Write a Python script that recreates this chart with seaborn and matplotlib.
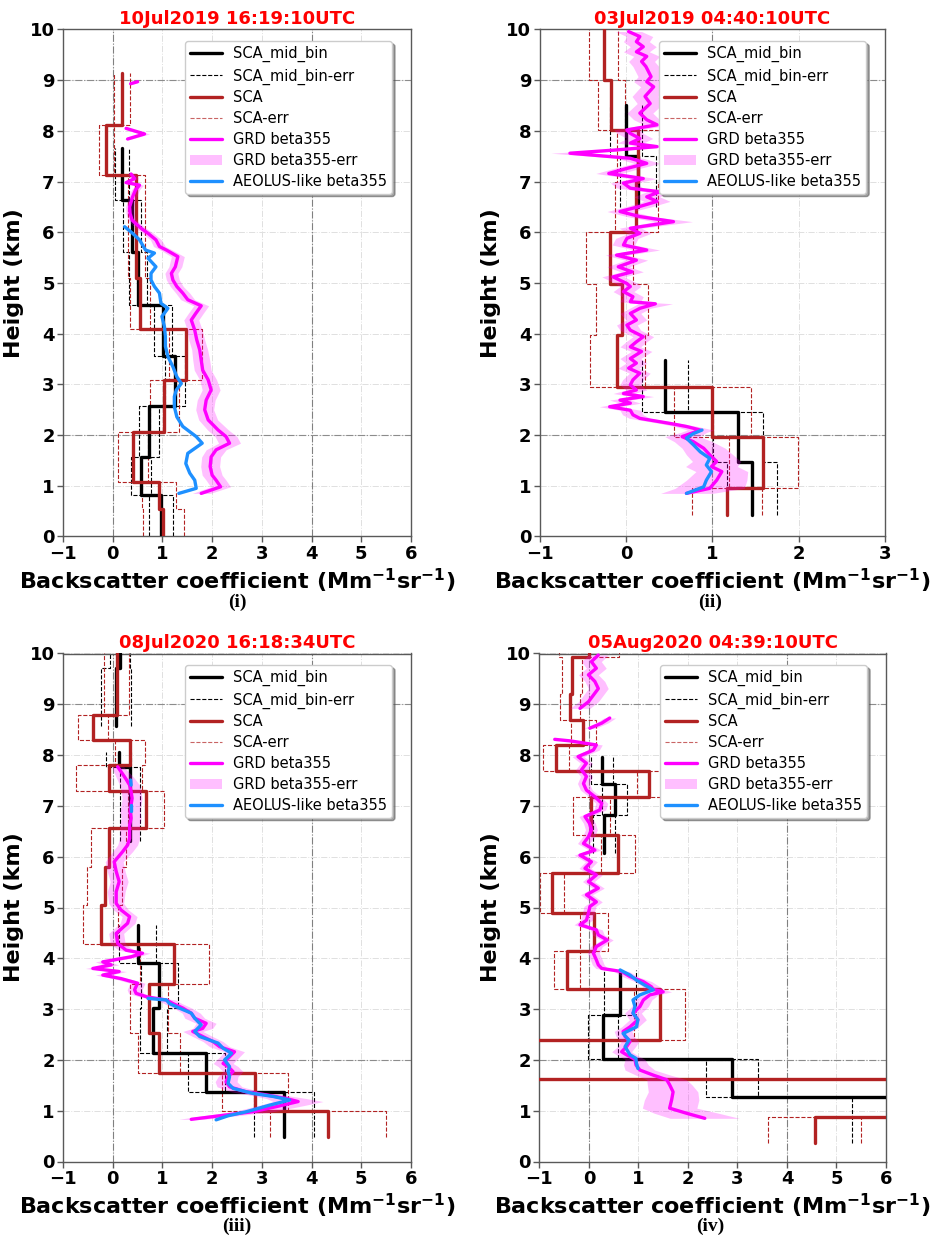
import numpy as np
import pandas as pd
import matplotlib
matplotlib.use("Agg")
import matplotlib.pyplot as plt
import seaborn as sns
from matplotlib.lines import Line2D
from matplotlib.patches import Patch

nan = np.nan

# ------------------------------------------------------------------ data
TITLES = ["10Jul2019 16:19:10UTC", "03Jul2019 04:40:10UTC",
          "08Jul2020 16:18:34UTC", "05Aug2020 04:39:10UTC"]
CAPTIONS = ["(i)", "(ii)", "(iii)", "(iv)"]
LEGEND_LABELS = ["SCA_mid_bin", "SCA_mid_bin-err", "SCA", "SCA-err",
                 "GRD beta355", "GRD beta355-err", "AEOLUS-like beta355"]
XLABEL = r"Backscatter coefficient (Mm$^{-1}$sr$^{-1}$)"
YLABEL = "Height (km)"
XTICKS_A = [-1, 0, 1, 2, 3, 4, 5, 6]
XTICKS_B = [-1, 0, 1, 2, 3]
YTICKS = [0, 1, 2, 3, 4, 5, 6, 7, 8, 9, 10]

# ---- panel (i)
P1_SCA_BOT = [0.00, 0.55, 1.07, 2.07, 3.09, 4.09, 5.10, 7.13, 8.12]
P1_SCA_TOP = [0.55, 1.07, 2.07, 3.09, 4.09, 5.10, 7.13, 8.12, 9.15]
P1_SCA_VAL = [1.02, 0.93, 0.40, 1.04, 1.47, 0.55, 0.47, -0.13, 0.18]
P1_SCA_ERR = [0.42, 0.35, 0.30, 0.30, 0.33, 0.20, 0.17, 0.15, 0.16]
P1_MID_BOT = [0.00, 0.82, 1.57, 2.57, 3.56, 4.57, 5.62, 6.64]
P1_MID_TOP = [0.82, 1.57, 2.57, 3.56, 4.57, 5.62, 6.64, 7.66]
P1_MID_VAL = [0.97, 0.57, 0.73, 1.25, 1.02, 0.50, 0.38, 0.19]
P1_MID_ERR = [0.25, 0.20, 0.20, 0.20, 0.18, 0.18, 0.18, 0.14]
P1_GRD_H = [0.85, 0.98, 1.11, 1.21, 1.38, 1.57, 1.71, 1.84, 1.97, 2.10,
            2.30, 2.50, 2.69, 2.89, 3.09, 3.28, 3.48, 3.68, 3.88, 4.07,
            4.27, 4.40, 4.55, 4.67, 4.80, 4.93, 5.06, 5.19, 5.32, 5.52,
            5.65, 5.72, 5.85, 5.98, 6.08, 6.14, 6.24, 6.37, 6.50, 6.70,
            6.84, 6.93, 6.98, 7.06, 7.15, nan, 7.84, 7.94, 8.05, nan,
            8.93, 8.97]
P1_GRD_X = [1.78, 2.17, 2.08, 2.00, 1.96, 1.98, 2.08, 2.35, 2.28, 2.12,
            1.92, 1.85, 1.88, 1.98, 1.92, 1.81, 1.78, 1.75, 1.69, 1.65,
            1.58, 1.67, 1.78, 1.51, 1.41, 1.29, 1.21, 1.18, 1.26, 1.31,
            1.08, 0.94, 0.87, 0.71, 0.57, 0.50, 0.39, 0.35, 0.34, 0.40,
            0.46, 0.54, 0.27, 0.44, 0.37, nan, 0.30, 0.64, 0.27, nan,
            0.36, 0.50]
P1_GRD_E = [0.18, 0.20, 0.20, 0.20, 0.19, 0.19, 0.20, 0.22, 0.22, 0.21,
            0.19, 0.18, 0.18, 0.18, 0.17, 0.17, 0.17, 0.16, 0.16, 0.15,
            0.15, 0.15, 0.15, 0.14, 0.14, 0.13, 0.13, 0.13, 0.13, 0.13,
            0.12, 0.12, 0.11, 0.11, 0.10, 0.10, 0.08, 0.08, 0.08, 0.08,
            0.08, 0.08, 0.08, 0.08, 0.08, nan, 0.08, 0.10, 0.08, nan,
            0.06, 0.06]
P1_AEO_H = [0.85, 0.95, 1.11, 1.25, 1.44, 1.64, 1.84, 1.97, 2.17, 2.36,
            2.56, 2.76, 2.89, 3.02, 3.15, 3.35, 3.55, 3.75, 3.94, 4.14,
            4.34, 4.50, 4.60, 4.80, 4.93, 5.06, 5.19, 5.32, 5.49, 5.59,
            5.65, 5.85, 5.98, 6.11]
P1_AEO_X = [1.33, 1.68, 1.65, 1.55, 1.47, 1.51, 1.80, 1.68, 1.41, 1.29,
            1.24, 1.24, 1.28, 1.38, 1.29, 1.21, 1.11, 1.06, 1.06, 1.04,
            0.99, 1.11, 0.97, 0.94, 0.84, 0.77, 0.77, 0.87, 0.71, 0.84,
            0.66, 0.54, 0.40, 0.24]

# ---- panel (ii)
P2_SCA_BOT = [0.42, 0.95, 1.97, 2.95, 3.97, 4.99, 6.01, 7.00, 8.02, 9.00]
P2_SCA_TOP = [0.95, 1.97, 2.95, 3.97, 4.99, 6.01, 7.00, 8.02, 9.00, 10.00]
P2_SCA_VAL = [1.17, 1.59, 1.00, -0.10, -0.05, -0.19, 0.12, 0.14, -0.17, -0.26]
P2_SCA_ERR = [0.41, 0.40, 0.45, 0.32, 0.30, 0.27, 0.25, 0.24, 0.16, 0.17]
P2_MID_BOT = [0.42, 1.46, 2.46, 6.50, 7.50]
P2_MID_TOP = [1.46, 2.46, 3.48, 7.50, 8.51]
P2_MID_VAL = [1.46, 1.30, 0.45, 0.14, 0.00]
P2_MID_ERR = [0.29, 0.29, 0.27, 0.21, 0.18]
P2_GRD_H = [0.85, 0.95, 1.11, 1.28, 1.38, 1.48, 1.61, 1.74, 1.87, 1.97,
            2.05, 2.10, 2.17, 2.23, 2.33, 2.40, 2.49, 2.56, 2.63, 2.69,
            2.76, 2.82, 2.89, 2.99, 3.09, 3.22, 3.32, 3.42, 3.51, 3.65,
            3.74, 3.84, 3.94, 4.07, 4.17, 4.27, 4.40, 4.50, 4.59, 4.63,
            4.73, 4.83, 4.93, 4.99, 5.12, 5.22, 5.32, 5.45, 5.55, 5.65,
            5.75, 5.88, 5.98, 6.08, 6.21, 6.31, 6.41, 6.51, 6.61, 6.70,
            6.80, 6.87, 6.97, 7.06, 7.16, 7.26, 7.36, 7.46, 7.56, 7.62,
            7.69, 7.76, 7.85, 7.95, 8.02, 8.12, 8.22, 8.35, 8.54, 8.68,
            8.87, 8.97, 9.07, 9.27, 9.37, 9.47, 9.56, 9.66, 9.76, 9.86,
            9.96]
P2_GRD_X = [0.70, 0.97, 1.05, 1.11, 0.99, 1.05, 0.97, 0.90, 0.78, 0.65,
            0.78, 0.86, 0.70, 0.51, 0.16, 0.08, 0.05, -0.19, 0.05, -0.07,
            0.20, -0.03, 0.12, 0.05, 0.08, 0.16, 0.03, 0.12, 0.05, 0.18,
            0.05, 0.12, 0.20, 0.05, 0.01, 0.12, 0.05, 0.16, 0.34, 0.05,
            0.08, -0.03, 0.05, 0.01, -0.15, 0.07, -0.09, 0.12, -0.11, 0.24,
            -0.03, 0.01, 0.16, 0.05, 0.55, 0.16, -0.07, 0.16, 0.36, 0.24,
            0.39, 0.05, -0.03, 0.20, -0.20, 0.01, 0.24, 0.05, -0.65, -0.15,
            0.36, 0.05, 0.16, 0.05, 0.01, 0.36, 0.24, 0.16, 0.28, 0.22,
            0.32, 0.24, 0.29, 0.23, 0.18, 0.24, 0.12, 0.20, 0.12, 0.16,
            0.03]
P2_GRD_E = [0.30, 0.40, 0.35, 0.30, 0.30, 0.28, 0.27, 0.25, 0.22, 0.20,
            0.15, 0.15, 0.13, 0.12, 0.12, 0.12, 0.12, 0.12, 0.12, 0.12,
            0.12, 0.12, 0.12, 0.12, 0.12, 0.12, 0.12, 0.12, 0.12, 0.12,
            0.12, 0.12, 0.12, 0.12, 0.12, 0.12, 0.12, 0.12, 0.20, 0.12,
            0.12, 0.12, 0.12, 0.13, 0.13, 0.13, 0.13, 0.13, 0.13, 0.15,
            0.13, 0.13, 0.13, 0.13, 0.22, 0.15, 0.15, 0.15, 0.15, 0.15,
            0.15, 0.15, 0.15, 0.15, 0.15, 0.15, 0.15, 0.15, 0.22, 0.15,
            0.15, 0.15, 0.15, 0.15, 0.15, 0.15, 0.15, 0.15, 0.15, 0.15,
            0.15, 0.15, 0.15, 0.15, 0.15, 0.15, 0.15, 0.15, 0.15, 0.15,
            0.15]
P2_AEO_H = [0.85, 0.98, 1.11, 1.28, 1.41, 1.54, 1.67, 1.81, 1.94, 2.03, 2.10]
P2_AEO_X = [0.70, 0.90, 0.93, 0.99, 0.93, 0.97, 0.86, 0.78, 0.70, 0.78, 0.88]

# ---- panel (iii)
P3_SCA_BOT = [0.48, 1.00, 1.75, 2.52, 3.49, 4.28, 5.05, 5.80, 6.56, 7.30, 7.80, 8.30, 8.79]
P3_SCA_TOP = [1.00, 1.75, 2.52, 3.49, 4.28, 5.05, 5.80, 6.56, 7.30, 7.80, 8.30, 8.79, 10.00]
P3_SCA_VAL = [4.33, 2.86, 0.93, 0.73, 1.24, -0.24, -0.16, -0.08, 0.67, -0.08, 0.34, -0.40, 0.08]
P3_SCA_ERR = [1.17, 0.66, 0.42, 0.38, 0.70, 0.35, 0.35, 0.35, 0.37, 0.66, 0.30, 0.30, 0.25]
P3_MID_BOT = [0.48, 1.37, 2.13, 3.02, 3.90, 6.30, 7.77, 8.57, 9.71]
P3_MID_TOP = [1.37, 2.13, 3.02, 3.90, 4.66, 7.77, 8.07, 9.71, 10.00]
P3_MID_VAL = [3.44, 1.88, 0.82, 0.94, 0.50, 0.35, 0.12, 0.07, 0.15]
P3_MID_ERR = [0.60, 0.37, 0.27, 0.37, 0.38, 0.20, 0.25, 0.30, 0.20]
P3_GRD_H = [0.83, 0.90, 0.98, 1.08, 1.18, 1.24, 1.31, 1.37, 1.47, 1.57,
            1.67, 1.77, 1.87, 1.93, 2.06, 2.16, 2.26, 2.36, 2.46, 2.56,
            2.62, 2.72, 2.82, 2.92, 3.02, 3.11, 3.18, 3.24, 3.31, 3.38,
            3.51, 3.60, 3.67, 3.74, 3.80, 3.87, 3.93, 4.03, 4.10, 4.16,
            4.29, 4.49, 4.69, 4.82, 4.95, 5.08, 5.31, 5.51, 5.71, 5.90,
            6.10, 6.23, 6.36, 6.49, 6.62, 6.76, 6.89, 7.02, 7.15, 7.28,
            7.41, 7.54, 7.67, 7.77]
P3_GRD_X = [1.58, 2.15, 2.82, 3.29, 3.73, 3.49, 3.09, 2.69, 2.35, 2.28,
            2.32, 2.42, 2.32, 2.22, 2.35, 2.45, 2.15, 2.02, 1.81, 1.61,
            1.81, 1.88, 1.65, 1.58, 1.41, 1.21, 1.08, 0.69, 0.47, 0.44,
            0.50, 0.17, -0.20, 0.13, -0.40, -0.03, -0.20, 0.37, 0.60, 0.27,
            0.10, 0.07, 0.30, 0.34, 0.17, 0.07, 0.07, 0.13, 0.07, 0.03,
            0.20, 0.30, 0.34, 0.34, 0.34, 0.37, 0.35, 0.37, 0.39, 0.37,
            0.34, 0.26, 0.17, 0.10]
P3_GRD_E = [0.25, 0.35, 0.40, 0.45, 0.50, 0.40, 0.35, 0.30, 0.25, 0.22,
            0.20, 0.20, 0.20, 0.20, 0.20, 0.20, 0.20, 0.20, 0.20, 0.20,
            0.20, 0.20, 0.20, 0.18, 0.18, 0.18, 0.18, 0.15, 0.15, 0.15,
            0.15, 0.15, 0.15, 0.15, 0.15, 0.15, 0.15, 0.15, 0.15, 0.15,
            0.15, 0.15, 0.15, 0.15, 0.15, 0.15, 0.18, 0.18, 0.18, 0.18,
            0.20, 0.20, 0.20, 0.20, 0.20, 0.20, 0.20, 0.20, 0.20, 0.20,
            0.20, 0.18, 0.15, 0.12]
P3_AEO_H = [0.82, 0.90, 0.98, 1.11, 1.21, 1.28, 1.34, 1.44, 1.54, 1.67,
            1.77, 1.87, 2.00, 2.13, 2.23, 2.33, 2.46, 2.56, 2.69, 2.82,
            2.92, 3.02, 3.11, 3.18, 3.21, nan, 6.89, 7.02, nan, 7.41, 7.51]
P3_AEO_X = [2.08, 2.32, 2.69, 3.16, 3.56, 3.23, 2.82, 2.42, 2.32, 2.35,
            2.32, 2.35, 2.25, 2.39, 2.22, 2.12, 1.75, 1.65, 1.78, 1.65,
            1.58, 1.34, 1.14, 1.08, 0.71, nan, 0.37, 0.37, nan, 0.37, 0.36]

# ---- panel (iv)
P4_SCA_BOT = [0.36, 0.87, 1.62, 2.39, 3.39, 4.15, 4.90, 5.67, 6.43, 7.18, 7.69, 8.20, 8.69, 9.20, 9.94]
P4_SCA_TOP = [0.87, 1.62, 2.39, 3.39, 4.15, 4.90, 5.67, 6.43, 7.18, 7.69, 8.20, 8.69, 9.20, 9.94, 10.50]
P4_SCA_VAL = [4.56, 9.50, -3.00, 1.43, -0.44, 0.10, -0.75, 0.59, 0.05, 1.22, -0.67, -0.11, -0.38, -0.34, 0.00]
P4_SCA_ERR = [0.94, 2.00, 1.50, 0.52, 0.26, 0.29, 0.24, 0.34, 0.37, 0.25, 0.26, 0.26, 0.20, 0.20, 0.60]
P4_MID_BOT = [0.36, 1.26, 2.01, 2.88, 6.07, 6.82, 7.44]
P4_MID_TOP = [1.26, 2.01, 2.88, 3.77, 6.82, 7.44, 7.97]
P4_MID_VAL = [6.40, 2.89, 0.29, 0.63, 0.31, 0.52, 0.27]
P4_MID_ERR = [1.08, 0.52, 0.30, 0.32, 0.22, 0.25, 0.22]
P4_GRD_H = [0.85, 0.95, 1.05, 1.21, 1.37, 1.51, 1.61, 1.70, 1.80, 1.90,
            2.01, 2.10, 2.16, 2.26, 2.36, 2.46, 2.56, 2.65, 2.79, 2.92,
            3.05, 3.18, 3.28, 3.34, 3.39, 3.44, 3.54, 3.64, 3.74, 3.80,
            3.87, 3.97, 4.10, 4.23, 4.36, 4.46, 4.56, 4.66, 4.75, 4.89,
            5.02, 5.11, 5.25, 5.38, 5.51, 5.64, 5.77, 5.90, 6.03, 6.13,
            6.26, 6.39, 6.53, 6.66, 6.79, 6.92, 7.05, 7.18, 7.31, 7.44,
            7.58, 7.71, 7.84, 7.97, 8.10, 8.20, 8.28, 8.31, nan,
            8.53, 8.63, 8.73, nan,
            8.92, 9.05, 9.18, 9.31, 9.45, 9.58, 9.71, 9.84, 9.97]
P4_GRD_X = [2.34, 1.97, 1.63, 1.67, 1.70, 1.63, 1.57, 1.30, 1.03, 0.95,
            0.93, 0.76, 0.66, 0.76, 0.83, 0.73, 0.69, 0.83, 0.99, 0.89,
            1.03, 1.10, 1.23, 1.50, 1.30, 1.26, 1.10, 0.83, 0.66, 0.26,
            0.19, 0.15, 0.09, 0.15, 0.37, 0.19, 0.15, -0.18, -0.05, -0.01,
            0.02, 0.15, -0.05, 0.19, -0.01, 0.15, -0.08, 0.05, -0.18, 0.12,
            -0.11, -0.01, 0.05, 0.01, -0.08, 0.22, 0.26, 0.12, -0.05, -0.11,
            -0.05, -0.15, -0.05, -0.22, 0.09, 0.15, -0.38, -0.69, nan,
            0.02, 0.26, 0.42, nan,
            -0.18, -0.01, 0.09, 0.19, 0.12, -0.01, 0.15, 0.05, 0.19]
P4_GRD_E = [0.70, 0.65, 0.55, 0.55, 0.50, 0.45, 0.40, 0.35, 0.30, 0.25,
            0.20, 0.20, 0.20, 0.18, 0.18, 0.18, 0.18, 0.17, 0.17, 0.17,
            0.17, 0.17, 0.17, 0.17, 0.20, 0.17, 0.17, 0.15, 0.15, 0.12,
            0.12, 0.12, 0.12, 0.12, 0.12, 0.12, 0.12, 0.12, 0.12, 0.12,
            0.12, 0.12, 0.12, 0.12, 0.12, 0.12, 0.12, 0.12, 0.12, 0.12,
            0.12, 0.12, 0.12, 0.12, 0.12, 0.12, 0.12, 0.12, 0.12, 0.12,
            0.12, 0.12, 0.12, 0.12, 0.12, 0.12, 0.12, 0.12, nan,
            0.12, 0.12, 0.12, nan,
            0.20, 0.20, 0.20, 0.20, 0.20, 0.20, 0.20, 0.20, 0.20]
P4_AEO_H = [1.83, 1.93, 2.03, 2.10, 2.26, 2.39, 2.52, 2.65, 2.79, 2.92,
            3.05, 3.18, 3.28, 3.38, 3.47, 3.57, 3.67, 3.77]
P4_AEO_X = [0.99, 0.96, 0.95, 0.83, 0.73, 0.81, 0.69, 0.96, 0.99, 0.89,
            0.93, 0.89, 1.03, 1.30, 1.13, 0.96, 0.83, 0.63]

# ------------------------------------------------------------------ style
sns.set_theme(style="white")
plt.rcParams["font.family"] = ["DejaVu Sans"]
plt.rcParams["mathtext.default"] = "bf"
plt.rcParams["text.color"] = "black"
plt.rcParams["axes.labelcolor"] = "black"
plt.rcParams["xtick.color"] = "black"
plt.rcParams["ytick.color"] = "black"

C_MID = "black"
C_SCA = "#b22222"
C_GRD = "#ff00ff"
C_AEO = "#1e90ff"
LW_MAIN = 2.4
LW_ERR = 0.8

W, H = 932, 1241
PANELS = [
    dict(rect=[63, 29.5, 411, 536.5], xlim=(-1, 6), xticks=XTICKS_A,
         darkx=[0, 4], cap=(237, 602),
         sca=(P1_SCA_BOT, P1_SCA_TOP, P1_SCA_VAL, P1_SCA_ERR),
         mid=(P1_MID_BOT, P1_MID_TOP, P1_MID_VAL, P1_MID_ERR),
         grd=(P1_GRD_H, P1_GRD_X, P1_GRD_E), aeo=(P1_AEO_H, P1_AEO_X)),
    dict(rect=[539.7, 29.5, 885, 536.5], xlim=(-1, 3), xticks=XTICKS_B,
         darkx=[1], cap=(710, 602),
         sca=(P2_SCA_BOT, P2_SCA_TOP, P2_SCA_VAL, P2_SCA_ERR),
         mid=(P2_MID_BOT, P2_MID_TOP, P2_MID_VAL, P2_MID_ERR),
         grd=(P2_GRD_H, P2_GRD_X, P2_GRD_E), aeo=(P2_AEO_H, P2_AEO_X)),
    dict(rect=[63, 653.5, 411, 1161.5], xlim=(-1, 6), xticks=XTICKS_A,
         darkx=[0, 4], cap=(237, 1226),
         sca=(P3_SCA_BOT, P3_SCA_TOP, P3_SCA_VAL, P3_SCA_ERR),
         mid=(P3_MID_BOT, P3_MID_TOP, P3_MID_VAL, P3_MID_ERR),
         grd=(P3_GRD_H, P3_GRD_X, P3_GRD_E), aeo=(P3_AEO_H, P3_AEO_X)),
    dict(rect=[539.4, 653.5, 886, 1161.5], xlim=(-1, 6), xticks=XTICKS_A,
         darkx=[0, 4], cap=(710, 1226),
         sca=(P4_SCA_BOT, P4_SCA_TOP, P4_SCA_VAL, P4_SCA_ERR),
         mid=(P4_MID_BOT, P4_MID_TOP, P4_MID_VAL, P4_MID_ERR),
         grd=(P4_GRD_H, P4_GRD_X, P4_GRD_E), aeo=(P4_AEO_H, P4_AEO_X)),
]
DARK_Y = [2, 9]


def step_frame(bot, top, val, err=None, sign=0):
    rows, seg = [], 0
    for i in range(len(val)):
        if i > 0 and abs(bot[i] - top[i - 1]) > 1e-6:
            seg += 1
        v = val[i] + (sign * err[i] if err is not None else 0.0)
        rows.append((v, bot[i], seg))
        rows.append((v, top[i], seg))
    return pd.DataFrame(rows, columns=["x", "y", "seg"])


def profile_frame(h, x, e=None):
    df = pd.DataFrame({"y": h, "x": x})
    if e is not None:
        df["e"] = e
    df["seg"] = df["x"].isna().cumsum()
    return df.dropna(subset=["x", "y"]).reset_index(drop=True)


def lines(ax, df, color, lw, ls="-", z=2):
    sns.lineplot(data=df, x="x", y="y", units="seg", estimator=None, sort=False,
                 color=color, lw=lw, linestyle=ls, ax=ax, legend=False, zorder=z)


fig = plt.figure(figsize=(W / 100, H / 100), dpi=100)

handles = [
    Line2D([], [], color=C_MID, lw=LW_MAIN),
    Line2D([], [], color=C_MID, lw=LW_ERR, ls="--"),
    Line2D([], [], color=C_SCA, lw=LW_MAIN),
    Line2D([], [], color=C_SCA, lw=LW_ERR, ls="--", alpha=0.7),
    Line2D([], [], color=C_GRD, lw=LW_MAIN),
    Patch(facecolor=C_GRD, alpha=0.25, edgecolor="none"),
    Line2D([], [], color=C_AEO, lw=LW_MAIN),
]

for k, p in enumerate(PANELS):
    l, t, r, b = p["rect"]
    ax = fig.add_axes([l / W, 1 - b / H, (r - l) / W, (b - t) / H])

    mb, mt, mv, me = p["mid"]
    lines(ax, step_frame(mb, mt, mv), C_MID, LW_MAIN, "-", 3)
    lines(ax, step_frame(mb, mt, mv, me, -1), C_MID, LW_ERR, "--", 2)
    lines(ax, step_frame(mb, mt, mv, me, +1), C_MID, LW_ERR, "--", 2)

    sb, st, sv, se = p["sca"]
    lines(ax, step_frame(sb, st, sv), C_SCA, LW_MAIN, "-", 4)
    lines(ax, step_frame(sb, st, sv, se, -1), C_SCA, LW_ERR, "--", 2.5)
    lines(ax, step_frame(sb, st, sv, se, +1), C_SCA, LW_ERR, "--", 2.5)

    gh, gx, ge = p["grd"]
    grd = profile_frame(gh, gx, ge)
    for _, g in grd.groupby("seg"):
        ax.fill_betweenx(g["y"], g["x"] - g["e"], g["x"] + g["e"],
                         color=C_GRD, alpha=0.25, lw=0, zorder=5)
    lines(ax, grd, C_GRD, LW_MAIN, "-", 6)

    ah, ax_ = p["aeo"]
    lines(ax, profile_frame(ah, ax_), C_AEO, LW_MAIN, "-", 7)

    ax.set_xlim(*p["xlim"])
    ax.set_ylim(0, 10)
    ax.set_xticks(p["xticks"])
    ax.set_yticks(YTICKS)
    ax.grid(True, ls="-.", lw=0.7, color="0.88", zorder=0)
    for xv in p["darkx"]:
        ax.axvline(xv, ls="-.", lw=0.8, color="0.5", zorder=1)
    for yv in DARK_Y:
        ax.axhline(yv, ls="-.", lw=0.8, color="0.55", zorder=1)
    ax.set_axisbelow(True)

    for sp in ax.spines.values():
        sp.set_color("0.35")
        sp.set_linewidth(1.0)
    ax.tick_params(axis="both", which="major", direction="out", length=4,
                   width=1, color="0.35", labelcolor="black", labelsize=13,
                   pad=2, bottom=True, left=True)
    for lab in ax.get_xticklabels() + ax.get_yticklabels():
        lab.set_fontweight("bold")

    ax.set_xlabel(XLABEL, fontsize=16, fontweight="bold", labelpad=2.5,
                  color="black")
    ax.set_ylabel(YLABEL, fontsize=16, fontweight="bold", labelpad=4,
                  color="black")
    ax.set_title(TITLES[k], color="#ff0000", fontsize=13, fontweight="bold", pad=4)

    leg = ax.legend(handles, LEGEND_LABELS, loc="upper right",
                    bbox_to_anchor=(0.946, 0.977), borderaxespad=0,
                    fontsize=10.5, labelspacing=0.4, handlelength=2.2,
                    handletextpad=0.75, borderpad=0.35, shadow=True,
                    framealpha=1, edgecolor="0.8", fancybox=True)
    for txt in leg.get_texts():
        txt.set_color("black")
    leg.set_zorder(20)

    cx, cy = p["cap"]
    fig.text(cx / W, 1 - cy / H, CAPTIONS[k], ha="center", va="center",
             fontsize=14, fontweight="bold", family="Liberation Serif",
             color="black")

fig.savefig("out.png", dpi=100)
